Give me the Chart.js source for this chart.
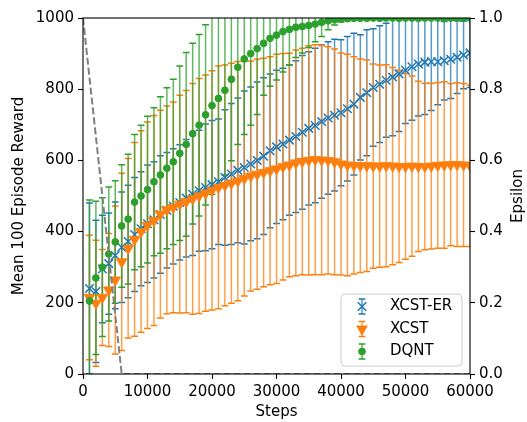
<!DOCTYPE html>
<html lang="en">
<head>
<meta charset="UTF-8">
<title>Mean 100 Episode Reward</title>
<script src="https://cdn.jsdelivr.net/npm/chart.js@4.4.1/dist/chart.umd.min.js"></script>
<style>
  html, body { margin: 0; padding: 0; background: #fff; }
  canvas { display: block; }
</style>
</head>
<body>
<canvas id="chart" width="527" height="422"></canvas>
<script>
// evaluation points, one every 1000 steps
const steps = [1000, 2000, 3000, 4000, 5000, 6000, 7000, 8000, 9000, 10000,
  11000, 12000, 13000, 14000, 15000, 16000, 17000, 18000, 19000, 20000,
  21000, 22000, 23000, 24000, 25000, 26000, 27000, 28000, 29000, 30000,
  31000, 32000, 33000, 34000, 35000, 36000, 37000, 38000, 39000, 40000,
  41000, 42000, 43000, 44000, 45000, 46000, 47000, 48000, 49000, 50000,
  51000, 52000, 53000, 54000, 55000, 56000, 57000, 58000, 59000, 60000];

// XCST-ER
const erMean = [240, 232, 295, 310, 333, 356, 372, 392, 408, 422,
  433, 448, 460, 471, 482, 494, 505, 515, 524, 532,
  540, 552, 562, 572, 580, 590, 600, 612, 627, 638,
  646, 657, 667, 679, 690, 698, 709, 719, 727, 734,
  745, 758, 777, 790, 805, 814, 825, 834, 843, 853,
  863, 871, 876, 877, 877, 880, 884, 890, 896, 902];
const erStd = [240, 200, 151, 142, 150, 155, 158, 160, 160, 165,
  163, 165, 162, 162, 162, 165, 172, 170, 178, 180,
  176, 190, 198, 203, 215, 216, 220, 220, 216, 215,
  213, 211, 213, 216, 215, 217, 215, 214, 213, 205,
  203, 199, 176, 177, 165, 164, 160, 165, 162, 149,
  150, 146, 147, 137, 121, 110, 110, 102, 95, 97];

// XCST
const xcstMean = [215, 199, 215, 236, 264, 315, 353, 378, 400, 418,
  431, 449, 461, 468, 477, 484, 492, 500, 508, 516,
  524, 530, 536, 542, 549, 556, 561, 566, 571, 576,
  582, 587, 593, 597, 600, 602, 601, 600, 596, 590,
  587, 586, 585, 585, 584, 584, 585, 584, 583, 583,
  584, 583, 583, 584, 586, 587, 588, 588, 587, 585];
const xcstStd = [175, 177, 135, 159, 208, 249, 252, 272, 283, 290,
  295, 292, 292, 296, 306, 312, 324, 330, 332, 336,
  341, 338, 337, 336, 330, 323, 323, 321, 320, 322,
  318, 314, 317, 318, 322, 323, 322, 319, 317, 312,
  311, 305, 300, 297, 287, 284, 284, 277, 270, 261,
  253, 239, 234, 233, 233, 234, 228, 230, 229, 227];

// DQNT
const dqntMean = [205, 270, 300, 337, 371, 416, 435, 483, 500, 518,
  540, 559, 578, 596, 620, 645, 675, 699, 728, 754,
  774, 797, 828, 862, 885, 900, 914, 929, 943, 952,
  962, 968, 974, 976, 979, 983, 988, 992, 995, 997,
  998, 999, 999, 999, 1000, 999, 1000, 1000, 999, 1000,
  1000, 999, 1000, 1000, 1000, 999, 1000, 1000, 1000, 1000];
const dqntStd = [284, 215, 195, 188, 172, 172, 182, 190, 199, 206,
  208, 220, 226, 232, 245, 258, 254, 255, 253, 250,
  245, 238, 229, 217, 212, 201, 185, 146, 135, 126,
  114, 100, 85, 74, 62, 50, 40, 25, 15, 8,
  5, 2, 2, 2, 1, 2, 1, 1, 2, 1,
  1, 2, 1, 1, 1, 2, 1, 1, 1, 1];

// epsilon schedule (right axis)
const epsSteps = [0, 6000, 60000];
const epsValues = [1.0, 0.0, 0.0];

const xTicks = [0, 10000, 20000, 30000, 40000, 50000, 60000];
const yTicks = [0, 200, 400, 600, 800, 1000];
const epsTicks = [0, 0.2, 0.4, 0.6, 0.8, 1.0];

const BLUE = '#1f77b4', ORANGE = '#ff7f0e', GREEN = '#2ca02c';
const BAR_ALPHA = 0.75;

const series = [
  { name: 'XCST-ER', mean: erMean, std: erStd, color: BLUE, style: 'crossRot', radius: 6, rotation: 0, width: 1.5 },
  { name: 'XCST', mean: xcstMean, std: xcstStd, color: ORANGE, style: 'triangle', radius: 6, rotation: 180, width: 1 },
  { name: 'DQNT', mean: dqntMean, std: dqntStd, color: GREEN, style: 'circle', radius: 3.4, rotation: 0, width: 1 }
];

function pts(xs, ys) { return xs.map((v, i) => ({ x: v, y: ys[i] })); }

// vertical error bars, drawn under all markers like matplotlib does
const errorBars = {
  id: 'errorBars',
  beforeDatasetsDraw(chart) {
    const { ctx, chartArea: a, scales } = chart;
    const x = scales.x, y = scales.y;
    ctx.save();
    ctx.beginPath();
    ctx.rect(a.left, a.top, a.right - a.left, a.bottom - a.top);
    ctx.clip();
    series.forEach(s => {
      s.mean.forEach((m, i) => {
        const px = x.getPixelForValue(steps[i]);
        const lo = y.getPixelForValue(m - s.std[i]);
        const hi = y.getPixelForValue(m + s.std[i]);
        ctx.strokeStyle = s.color;
        ctx.lineWidth = 1.5;
        ctx.globalAlpha = BAR_ALPHA;
        ctx.beginPath();
        ctx.moveTo(px, lo);
        ctx.lineTo(px, hi);
        ctx.stroke();
        ctx.globalAlpha = 1;
        ctx.beginPath();
        ctx.moveTo(px - 3.4, lo); ctx.lineTo(px + 3.4, lo);
        ctx.moveTo(px - 3.4, hi); ctx.lineTo(px + 3.4, hi);
        ctx.stroke();
      });
    });
    ctx.restore();
  }
};

// frame, axis titles and legend
const decorations = {
  id: 'decorations',
  afterDraw(chart) {
    const { ctx, chartArea: a } = chart;
    ctx.save();
    ctx.strokeStyle = '#000';
    ctx.lineWidth = 1.1;
    ctx.strokeRect(a.left, a.top, a.right - a.left, a.bottom - a.top);

    ctx.fillStyle = '#000';
    ctx.font = '15px "DejaVu Sans"';
    ctx.textAlign = 'center';
    ctx.textBaseline = 'middle';
    ctx.fillText('Steps', (a.left + a.right) / 2, 412);
    ctx.save();
    ctx.translate(19, (a.top + a.bottom) / 2);
    ctx.rotate(-Math.PI / 2);
    ctx.fillText('Mean 100 Episode Reward', 0, 0);
    ctx.restore();
    ctx.save();
    ctx.translate(518, (a.top + a.bottom) / 2);
    ctx.rotate(-Math.PI / 2);
    ctx.fillText('Epsilon', 0, 0);
    ctx.restore();

    // legend box
    const bx = 341, by = 294, bw = 121, bh = 72, r = 4;
    ctx.beginPath();
    ctx.moveTo(bx + r, by);
    ctx.arcTo(bx + bw, by, bx + bw, by + bh, r);
    ctx.arcTo(bx + bw, by + bh, bx, by + bh, r);
    ctx.arcTo(bx, by + bh, bx, by, r);
    ctx.arcTo(bx, by, bx + bw, by, r);
    ctx.closePath();
    ctx.fillStyle = 'rgba(255,255,255,0.8)';
    ctx.fill();
    ctx.strokeStyle = '#cccccc';
    ctx.lineWidth = 1;
    ctx.stroke();

    series.forEach((s, k) => {
      const cy = 306.5 + k * 22.5, cx = 362;
      ctx.strokeStyle = s.color;
      ctx.fillStyle = s.color;
      ctx.lineWidth = 1.5;
      ctx.globalAlpha = BAR_ALPHA;
      ctx.beginPath();
      ctx.moveTo(cx, cy - 7.5); ctx.lineTo(cx, cy + 7.5);
      ctx.stroke();
      ctx.globalAlpha = 1;
      ctx.beginPath();
      ctx.moveTo(cx - 3.4, cy - 7.5); ctx.lineTo(cx + 3.4, cy - 7.5);
      ctx.moveTo(cx - 3.4, cy + 7.5); ctx.lineTo(cx + 3.4, cy + 7.5);
      ctx.stroke();
      ctx.lineWidth = s.width;
      Chart.helpers.drawPoint(ctx, { pointStyle: s.style, radius: s.radius, rotation: s.rotation, borderWidth: s.width }, cx, cy);
      ctx.fillStyle = '#000';
      ctx.textAlign = 'left';
      ctx.fillText(s.name, 390, cy);
    });
    ctx.restore();
  }
};

const datasets = series.map((s, k) => ({
  type: 'scatter',
  label: s.name,
  data: pts(steps, s.mean),
  yAxisID: 'y',
  pointStyle: s.style,
  pointRadius: s.radius,
  pointRotation: s.rotation,
  pointBorderWidth: s.width,
  backgroundColor: s.color,
  borderColor: s.color,
  order: 3 - k
}));
datasets.push({
  type: 'line',
  label: 'Epsilon',
  data: pts(epsSteps, epsValues),
  yAxisID: 'y2',
  borderColor: '#7f7f7f',
  borderWidth: 2,
  borderDash: [7, 3],
  pointRadius: 0,
  fill: false,
  order: 0
});

const tickFont = { family: 'DejaVu Sans', size: 15 };
const axisGrid = { drawOnChartArea: false, tickLength: 5, tickColor: '#000', tickWidth: 1.1 };

new Chart(document.getElementById('chart'), {
  data: { datasets },
  options: {
    responsive: false,
    animation: false,
    devicePixelRatio: 1,
    events: [],
    layout: { padding: { top: 18, left: 0, right: 0, bottom: 0 } },
    plugins: { legend: { display: false }, tooltip: { enabled: false } },
    scales: {
      x: {
        type: 'linear', min: 0, max: 60000,
        afterBuildTicks: s => { s.ticks = xTicks.map(v => ({ value: v })); },
        ticks: { color: '#000', font: tickFont, padding: 4, maxRotation: 0, autoSkip: false, callback: v => String(v) },
        grid: axisGrid, border: { display: false },
        afterFit: s => { s.height = 48; }
      },
      y: {
        type: 'linear', position: 'left', min: 0, max: 1000,
        afterBuildTicks: s => { s.ticks = yTicks.map(v => ({ value: v })); },
        ticks: { color: '#000', font: tickFont, padding: 4, autoSkip: false, callback: v => String(v) },
        grid: axisGrid, border: { display: false },
        afterFit: s => { s.width = 83; }
      },
      y2: {
        type: 'linear', position: 'right', min: 0, max: 1,
        afterBuildTicks: s => { s.ticks = epsTicks.map(v => ({ value: v })); },
        ticks: { color: '#000', font: tickFont, padding: 4, autoSkip: false, callback: v => v.toFixed(1) },
        grid: axisGrid, border: { display: false },
        afterFit: s => { s.width = 57; }
      }
    }
  },
  plugins: [errorBars, decorations]
});
</script>
</body>
</html>
